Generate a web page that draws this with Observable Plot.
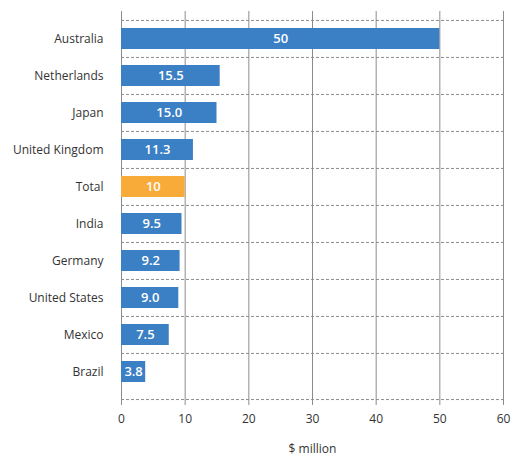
<!DOCTYPE html>
<html>
<head>
<meta charset="utf-8">
<script src="https://cdn.jsdelivr.net/npm/d3@7"></script>
<script src="https://cdn.jsdelivr.net/npm/@observablehq/plot@0.6"></script>
<style>
  html, body { margin: 0; padding: 0; background: #fff; }
  #chart svg { display: block; }
</style>
</head>
<body>
<div id="chart"></div>
<script>
const countries = ["Australia", "Netherlands", "Japan", "United Kingdom", "Total", "India", "Germany", "United States", "Mexico", "Brazil"];
const values = [50, 15.5, 15.0, 11.3, 10, 9.5, 9.2, 9.0, 7.5, 3.8];
const valueLabels = ["50", "15.5", "15.0", "11.3", "10", "9.5", "9.2", "9.0", "7.5", "3.8"];
const xTicks = [0, 10, 20, 30, 40, 50, 60];

const data = countries.map((c, i) => ({country: c, value: values[i], label: valueLabels[i]}));
const mTop = 20, mBottom = 68;
const step = (459 - mTop - mBottom) / countries.length;

const chart = Plot.plot({
  width: 515,
  height: 459,
  marginLeft: 121,
  marginRight: 12,
  marginTop: mTop,
  marginBottom: mBottom,
  style: {fontFamily: "'Open Sans', sans-serif", fontSize: "12px", color: "#333", background: "#fff"},
  x: {domain: [0, 60], ticks: xTicks, tickSize: 0, tickPadding: 23, label: "$ million", labelAnchor: "center", labelArrow: "none", labelOffset: 61},
  y: {domain: countries, paddingInner: 0.42, paddingOuter: 0.21, tickSize: 0, tickPadding: 18, label: null},
  marks: [
    Plot.ruleX(xTicks, {x: d => d, stroke: "#8c8c8c", strokeWidth: 1, strokeOpacity: 1, insetTop: -9, insetBottom: -14}),
    Plot.ruleY(countries, {y: d => d, dy: -step / 2, stroke: "#8c8c8c", strokeDasharray: "3,2", strokeWidth: 1}),
    Plot.ruleY([countries[countries.length - 1]], {y: d => d, dy: step / 2 + 9, stroke: "#8c8c8c", strokeDasharray: "3,2", strokeWidth: 1}),
    Plot.barX(data, {y: "country", x: "value", fill: d => d.country === "Total" ? "#f9ab3a" : "#3b7fc4"}),
    Plot.text(data, {y: "country", x: d => d.value / 2, text: "label", fill: "white", fontSize: 13, fontWeight: 600})
  ]
});
document.getElementById("chart").appendChild(chart);
</script>
</body>
</html>
